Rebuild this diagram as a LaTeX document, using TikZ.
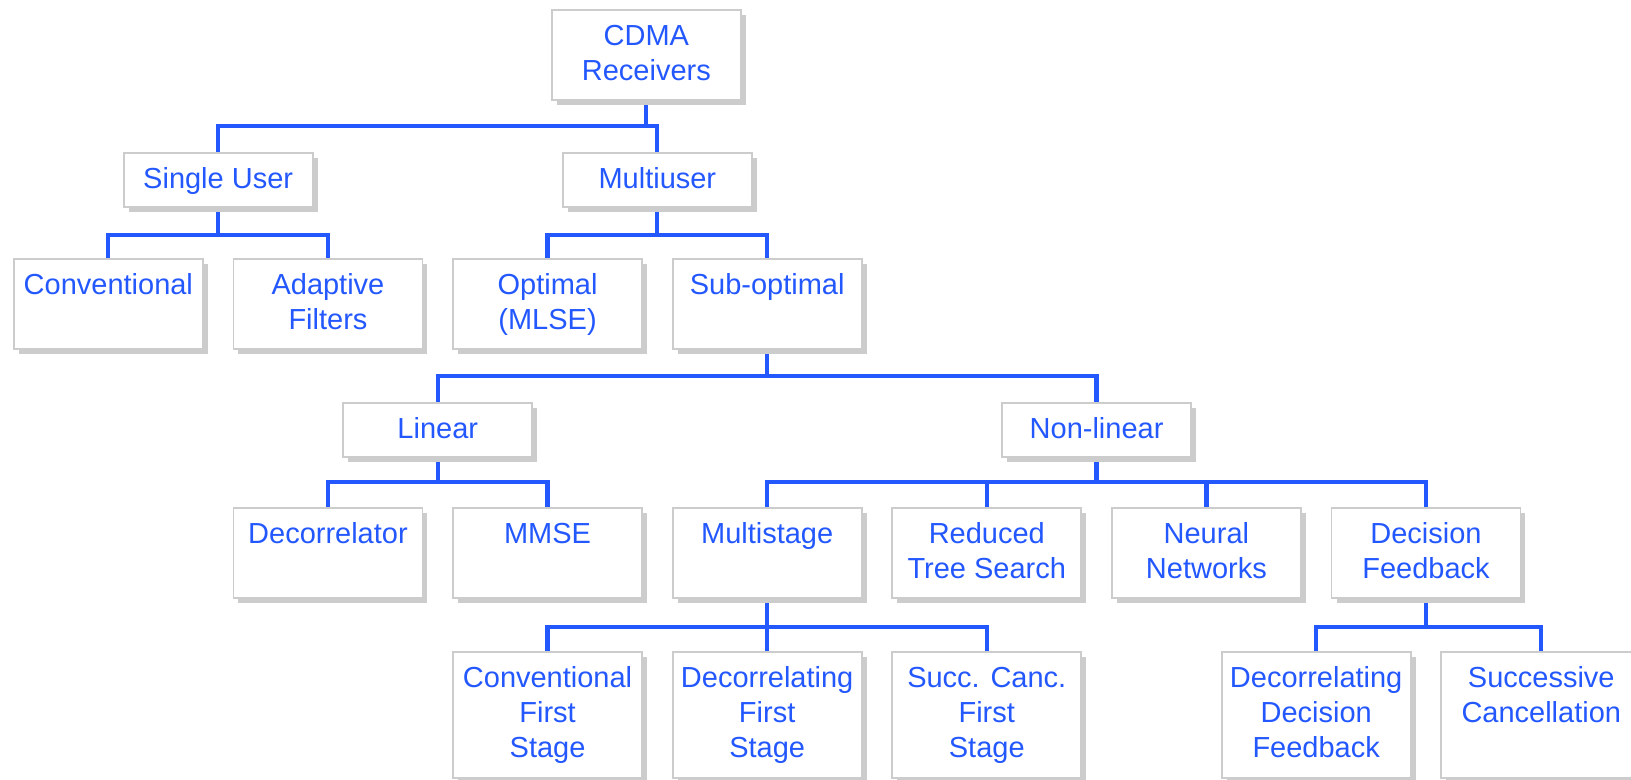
\documentclass[tikz,border=0pt]{standalone}
\usepackage{fontspec}
\setmainfont{Liberation Sans}
\usetikzlibrary{shadows}
\definecolor{treeblue}{RGB}{36,88,255}
\definecolor{boxedge}{RGB}{204,204,204}
\definecolor{boxshade}{RGB}{204,204,204}
\pgfdeclarelayer{wires}
\pgfsetlayers{wires,main}
\tikzset{
  bx/.style={draw=boxedge, line width=1pt, fill=white, inner sep=0pt,
    anchor=north west, minimum width=3.78cm,
    general shadow={fill=boxshade, shadow xshift=0.1cm, shadow yshift=-0.1cm}},
  oneline/.style={minimum height=1.08cm},
  twoline/.style={minimum height=1.8cm},
  threeline/.style={minimum height=2.52cm},
  txt/.style={inner sep=0pt, align=center, text=treeblue,
    font=\fontsize{16.5}{19.9}\selectfont},
  conn/.style={draw=treeblue, line width=0.085cm, line join=miter}
}
% caption of a box, set from its top edge
\newcommand\boxtext[2]{\node[txt, below=0.23cm] (#1-t) at (#1.north) {\strut #2};}
\begin{document}
\begin{tikzpicture}[x=0.02cm, y=-0.02cm]
\useasboundingbox (0,0) rectangle (1631,780);
\clip (0,0) rectangle (1631,780);

% boxes
\node[bx, twoline]   (cdma)   at (551,9)      {};
\node[bx, oneline]   (su)     at (122.8,152)  {};
\node[bx, oneline]   (mu)     at (562,152)    {};
\node[bx, twoline]   (conv)   at (13,258)     {};
\node[bx, twoline]   (adapt)  at (232.6,258)  {};
\node[bx, twoline]   (opt)    at (452.2,258)  {};
\node[bx, twoline]   (sub)    at (671.8,258)  {};
\node[bx, oneline]   (lin)    at (342.4,402)  {};
\node[bx, oneline]   (nonlin) at (1001.2,402) {};
\node[bx, twoline]   (decor)  at (232.6,507)  {};
\node[bx, twoline]   (mmse)   at (452.2,507)  {};
\node[bx, twoline]   (multi)  at (671.8,507)  {};
\node[bx, twoline]   (rts)    at (891.4,507)  {};
\node[bx, twoline]   (nn)     at (1111,507)   {};
\node[bx, twoline]   (df)     at (1330.6,507) {};
\node[bx, threeline] (cfs)    at (452.2,651)  {};
\node[bx, threeline] (dfs)    at (671.8,651)  {};
\node[bx, threeline] (scfs)   at (891.4,651)  {};
\node[bx, threeline] (ddf)    at (1220.8,651) {};
\node[bx, threeline, minimum width=4cm] (sc) at (1440.4,651) {};

% captions
\boxtext{cdma}{CDMA\\Receivers}
\boxtext{su}{Single User}
\boxtext{mu}{Multiuser}
\boxtext{conv}{Conventional}
\boxtext{adapt}{Adaptive\\Filters}
\boxtext{opt}{Optimal\\(MLSE)}
\boxtext{sub}{Sub-optimal}
\boxtext{lin}{Linear}
\boxtext{nonlin}{Non-linear}
\boxtext{decor}{Decorrelator}
\boxtext{mmse}{MMSE}
\boxtext{multi}{Multistage}
\boxtext{rts}{Reduced\\Tree Search}
\boxtext{nn}{Neural\\Networks}
\boxtext{df}{Decision\\Feedback}
\boxtext{cfs}{Conventional\\First\\Stage}
\boxtext{dfs}{Decorrelating\\First\\Stage}
\boxtext{scfs}{Succ. Canc.\\First\\Stage}
\boxtext{ddf}{Decorrelating\\Decision\\Feedback}
\boxtext{sc}{Successive\\Cancellation}

% heights of the horizontal bus lines
\coordinate (bus1) at (0,126);
\coordinate (bus2) at (0,235);
\coordinate (bus3) at (0,376);
\coordinate (bus4) at (0,482);
\coordinate (bus5) at (0,627);

% tree connectors, kept beneath the boxes
\begin{pgfonlayer}{wires}
\foreach \p/\c/\b in {cdma/su/bus1, cdma/mu/bus1,
    su/conv/bus2, su/adapt/bus2, mu/opt/bus2, mu/sub/bus2,
    sub/lin/bus3, sub/nonlin/bus3,
    lin/decor/bus4, lin/mmse/bus4,
    nonlin/multi/bus4, nonlin/rts/bus4, nonlin/nn/bus4, nonlin/df/bus4,
    multi/cfs/bus5, multi/dfs/bus5, multi/scfs/bus5,
    df/ddf/bus5}
  \draw[conn] (\p.south) |- (\c.north |- \b) -- (\c.north);
% the last branch drops onto the caption column of its box
\draw[conn] (df.south) |- (sc-t.north |- bus5) -- (sc-t.north |- sc.north);
\end{pgfonlayer}
\end{tikzpicture}
\end{document}
